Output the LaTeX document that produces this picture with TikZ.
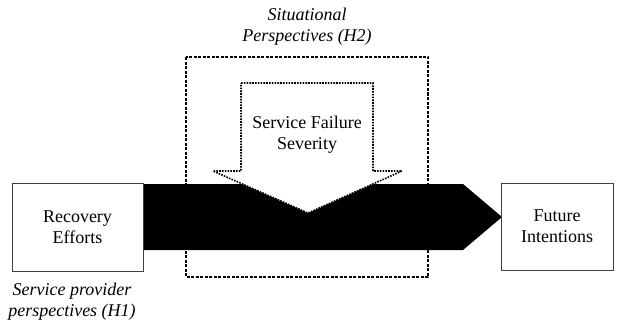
\documentclass[tikz,border=0pt]{standalone}
\usepackage{fontspec}
\setmainfont{Liberation Serif}
\begin{document}
\begin{tikzpicture}[x=1pt,y=-1pt,
  txt/.style={font=\fontsize{18}{21}\selectfont, align=center, inner sep=0pt},
  itxt/.style={txt, font=\fontsize{18}{21}\selectfont\itshape},
  boxnode/.style={draw=black!75, line width=0.9pt, fill=white, inner sep=0pt}]
\useasboundingbox (0,0) rectangle (623,321);
% dashed situational box
\draw[line width=1.2pt, dash pattern=on 3pt off 1.5pt] (186,57) rectangle (428,277);
% black arrow
\fill[black] (143,184) -- (463,184) -- (502,217) -- (463,250) -- (143,250) -- cycle;
% white dotted down arrow
\draw[fill=white, line width=1.6pt, dash pattern=on 1.6pt off 1.2pt]
  (241,83) -- (373,83) -- (373,171) -- (402,171) -- (308,213) -- (213,171) -- (241,171) -- cycle;
% boxes
\node[boxnode, minimum width=131pt, minimum height=88pt] (re) at (77.5,227) {};
\node[txt] at (re.center) {Recovery\\Efforts};
\node[boxnode, minimum width=112pt, minimum height=87pt] (fi) at (557,226.5) {};
\node[txt] at (fi.center) {Future\\Intentions};
\node[txt] (sfs) at (307,135) {Service Failure\\Severity};
\node[itxt] (sp) at (307,27) {Situational\\Perspectives (H2)};
\node[itxt] (spp) at (72,302) {Service provider\\perspectives (H1)};
\end{tikzpicture}
\end{document}
